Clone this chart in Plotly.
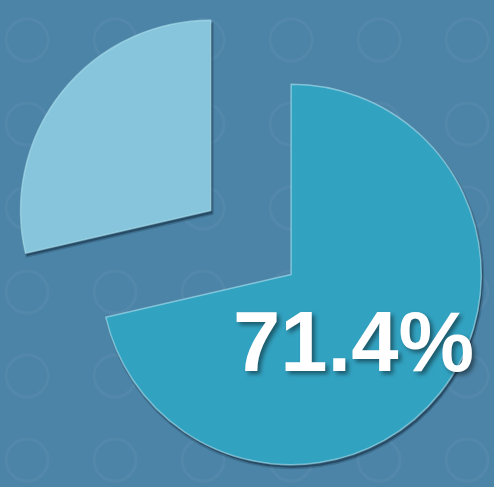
import plotly.graph_objects as go

labels = ["Series A", "Series B"]
values = [71.4, 28.6]
slice_text = ["71.4%", ""]

W, H = 494, 487
BG = "#4C84A7"

fig = go.Figure()
# soft drop shadow behind the slices (same data, offset domain)
fig.add_trace(go.Pie(
    labels=labels, values=values, sort=False, direction="clockwise", rotation=0,
    pull=[0.27, 0.27], textinfo="none", hoverinfo="skip",
    marker=dict(colors=["rgba(20,45,65,0.55)", "rgba(20,45,65,0.55)"],
                line=dict(color="rgba(20,45,65,0.25)", width=3)),
    showlegend=False,
    domain=dict(x=[0.022, 1.0], y=[0.0, 0.992]),
))
fig.add_trace(go.Pie(
    labels=labels,
    values=values,
    text=slice_text,
    textinfo="none",
    sort=False,
    direction="clockwise",
    rotation=0,
    pull=[0.27, 0.27],
    marker=dict(colors=["#32A2C1", "#86C5DB"],
                line=dict(color="rgba(175,228,242,0.6)", width=1.5)),
    showlegend=False,
    domain=dict(x=[0.016, 1.0], y=[0.006, 0.998]),
))

# faint circle pattern of the background
shapes = []
r = 21
for cx in range(27, W + 40, 88):
    for cy in range(40, H + 40, 84):
        shapes.append(dict(type="circle", xref="paper", yref="paper",
                           x0=(cx - r) / W, x1=(cx + r) / W,
                           y0=1 - (cy + r) / H, y1=1 - (cy - r) / H,
                           line=dict(color="rgba(255,255,255,0.04)", width=3),
                           layer="below"))

fig.update_layout(
    width=W, height=H,
    margin=dict(l=0, r=0, t=0, b=0),
    paper_bgcolor=BG,
    plot_bgcolor=BG,
    shapes=shapes,
    annotations=[dict(
        text=slice_text[0], xref="paper", yref="paper",
        x=353 / W, y=1 - 341 / H, xanchor="center", yanchor="middle",
        showarrow=False,
        font=dict(family="Liberation Sans, Arial", size=85, color="white",
                  weight="bold", shadow="3px 3px 4px rgba(0,0,0,0.45)"),
    )],
)
fig.write_html("out.html", config={"displayModeBar": False},
               post_script="document.body.style.margin='0';")
